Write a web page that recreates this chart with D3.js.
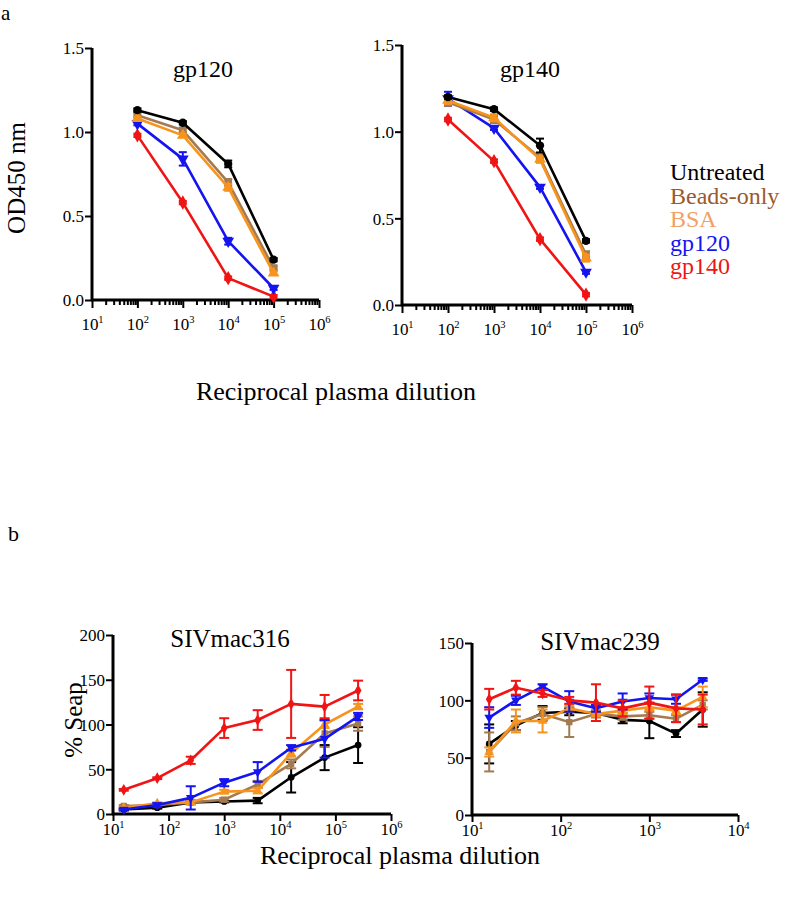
<!DOCTYPE html>
<html><head><meta charset="utf-8">
<script src="https://cdn.jsdelivr.net/npm/d3@7"></script>
<style>body{margin:0;background:#fff}</style>
</head><body>
<svg id="c" width="800" height="899" font-family="Liberation Serif, Times New Roman, serif"></svg>
<script>
// ---------- data ----------
const seriesNames = ["Untreated","Beads-only","BSA","gp120","gp140"];
const seriesColors = ["#000000","#A47A50","#F7941D","#1414F0","#F01414"];
const legendColors = ["#000000","#9A5A2B","#F2A064","#1414F0","#F01414"];
const markers = ["circle","square","triangle","triangleDown","diamond"];

const elisaX = [100, 1000, 10000, 100000];
const gp120Untreated = [1.13, 1.055, 0.81, 0.24];
const gp120Beads     = [1.10, 1.01, 0.70, 0.19];
const gp120BSA       = [1.08, 0.98, 0.67, 0.16];
const gp120Gp120     = [1.05, 0.84, 0.35, 0.07];
const gp120Gp140     = [0.98, 0.58, 0.13, 0.02];
const gp120Err = [[0.01,0.01,0.02,0.01],[0.01,0.01,0.02,0.01],[0.01,0.01,0.02,0.01],[0.01,0.04,0.02,0.01],[0.01,0.01,0.01,0.01]];

const gp140Untreated = [1.20, 1.13, 0.92, 0.37];
const gp140Beads     = [1.17, 1.07, 0.85, 0.29];
const gp140BSA       = [1.18, 1.08, 0.84, 0.27];
const gp140Gp120     = [1.19, 1.02, 0.68, 0.19];
const gp140Gp140     = [1.07, 0.83, 0.38, 0.06];
const gp140Err = [[0.01,0.01,0.04,0.01],[0.02,0.02,0.02,0.02],[0.02,0.02,0.02,0.02],[0.04,0.01,0.01,0.01],[0.01,0.01,0.01,0.01]];

const mac316X = [15.625, 62.5, 250, 1000, 4000, 16000, 64000, 256000];
const mac316Untreated = [5, 7, 13, 14, 15, 41, 63, 77];
const mac316Beads     = [9, 10, 13, 16, 33, 56, 90, 101];
const mac316BSA       = [7, 12, 13, 25, 26, 68, 100, 120];
const mac316Gp120     = [5, 10, 18, 35, 47, 74, 84, 109];
const mac316Gp140     = [27, 40, 60, 96, 105, 123, 120, 138];
const mac316Err = [[1,1,2,1,3,17,14,20],[1,1,2,2,4,5,15,8],[1,1,2,2,3,4,4,3],[1,2,13,4,11,3,21,4],[1,1,4,11,11,38,13,11]];

const mac239X = [15.625, 31.25, 62.5, 125, 250, 500, 1000, 2000, 4000];
const mac239Untreated = [62, 78, 89, 90, 89, 83, 82, 71, 92];
const mac239Beads     = [55, 80, 88, 81, 88, 86, 87, 84, 96];
const mac239BSA       = [55, 82, 82, 93, 88, 91, 94, 91, 103];
const mac239Gp120     = [85, 100, 112, 99, 93, 99, 102, 101, 118];
const mac239Gp140     = [101, 111, 106, 100, 98, 93, 98, 93, 92];
const mac239Err = [[17,4,6,3,2,3,15,3,15],[17,6,6,13,3,3,3,3,4],[4,10,10,3,2,3,3,3,9],[9,4,2,9,3,7,4,4,1],[9,6,3,3,16,7,14,12,13]];

const elisaYTicks = [0, 0.5, 1.0, 1.5];
const mac316YTicks = [0, 50, 100, 150, 200];
const mac239YTicks = [0, 50, 100, 150];

// ---------- drawing ----------
const FONT = "Liberation Serif, Times New Roman, serif";
const svg = d3.select("#c");

function markerPath(type, size){
  const map = {circle:d3.symbolCircle, square:d3.symbolSquare, triangle:d3.symbolTriangle, triangleDown:d3.symbolTriangle, diamond:d3.symbolDiamond};
  return d3.symbol().type(map[type]).size(size)();
}

function panel(opt){
  const g = svg.append("g");
  const x = d3.scaleLog().domain(opt.xDomain).range(opt.xRange);
  const y = d3.scaleLinear().domain(opt.yDomain).range(opt.yRange);
  const decades = d3.range(Math.log10(opt.xDomain[0]), Math.log10(opt.xDomain[1])+1).map(e=>Math.pow(10,e));

  if(opt.minor){
    const minors = [];
    decades.slice(0,-1).forEach(d=>{ for(let k=2;k<=9;k++) minors.push(d*k); });
    g.append("g").attr("transform",`translate(0,${opt.yRange[0]})`)
      .call(d3.axisBottom(x).tickValues(minors).tickSize(5).tickFormat(""))
      .call(a=>a.select(".domain").remove())
      .call(a=>a.selectAll("line").attr("stroke","#000").attr("stroke-width",2));
  }
  const xa = g.append("g").attr("transform",`translate(0,${opt.yRange[0]})`)
    .call(d3.axisBottom(x).tickValues(decades).tickSize(opt.xTickSize).tickSizeOuter(0).tickFormat(""));
  xa.attr("font-family",FONT);
  xa.select(".domain").attr("stroke","#000").attr("stroke-width",opt.axisW).attr("d",`M${opt.xRange[0]-1},0H${opt.xRange[1]}`);
  xa.selectAll(".tick line").attr("stroke","#000").attr("stroke-width",2);
  xa.selectAll(".tick").append("text").attr("fill","#000").attr("y",opt.xLabelDy)
    .attr("text-anchor","middle").attr("font-size",opt.tickFont).attr("font-family",FONT)
    .each(function(d){
      const t = d3.select(this);
      t.append("tspan").text("10");
      t.append("tspan").attr("dy",-7).attr("font-size",opt.tickFont*0.62).text(Math.round(Math.log10(d)));
    });
  const ya = g.append("g").attr("transform",`translate(${opt.xRange[0]},0)`)
    .call(d3.axisLeft(y).tickValues(opt.yTicks).tickSize(7).tickSizeOuter(0).tickFormat(opt.yFormat));
  ya.attr("font-family",FONT);
  ya.select(".domain").attr("stroke","#000").attr("stroke-width",opt.axisW).attr("d",`M0,${opt.yRange[1]}V${opt.yRange[0]+1}`);
  ya.selectAll(".tick line").attr("stroke","#000").attr("stroke-width",2);
  ya.selectAll(".tick text").attr("fill","#000").attr("font-size",opt.tickFont).attr("font-family",FONT).attr("x",-8).attr("dy","0.35em");

  g.append("text").attr("x",opt.titleX).attr("y",opt.titleY).attr("text-anchor","middle")
    .attr("font-family",FONT).attr("font-size",opt.titleFont).text(opt.title);

  const line = d3.line().x(d=>x(d[0])).y(d=>y(d[1]));
  opt.order.forEach(i=>{
    const vals = opt.series[i];
    const pts = opt.xs.map((xv,j)=>[xv, vals[j], opt.errs[i][j]]);
    const col = seriesColors[i];
    const sg = g.append("g");
    pts.forEach(p=>{
      const cx = x(p[0]), y1 = y(p[1]+p[2]), y2 = y(Math.max(0,p[1]-p[2]));
      sg.append("line").attr("x1",cx).attr("x2",cx).attr("y1",y1).attr("y2",y2).attr("stroke",col).attr("stroke-width",opt.errW);
      [y1,y2].forEach(yy=>sg.append("line").attr("x1",cx-opt.cap).attr("x2",cx+opt.cap).attr("y1",yy).attr("y2",yy).attr("stroke",col).attr("stroke-width",opt.errW));
    });
    sg.append("path").datum(pts).attr("d",line).attr("fill","none").attr("stroke",col).attr("stroke-width",opt.lineW).attr("stroke-linejoin","round");
    sg.selectAll(".m").data(pts).enter().append("path")
      .attr("d",markerPath(markers[i], opt.mSize*(markers[i]==="circle"?0.9:1)))
      .attr("transform",p=>`translate(${x(p[0])},${y(p[1])})${markers[i]==="triangleDown"?" rotate(180)":""}`)
      .attr("fill",col);
  });
}

const elisaCommon = {xDomain:[10,1e6], yDomain:[0,1.5], yTicks:elisaYTicks, yFormat:d3.format(".1f"), minor:true,
  xTickSize:8, xLabelDy:30, tickFont:17, titleFont:24, axisW:3, lineW:2.6, errW:2, cap:4, mSize:60,
  xs:elisaX, order:[4,3,1,2,0]};

panel(Object.assign({}, elisaCommon, {xRange:[92,319], yRange:[300,48], title:"gp120", titleX:203, titleY:77,
  series:[gp120Untreated,gp120Beads,gp120BSA,gp120Gp120,gp120Gp140], errs:gp120Err}));
panel(Object.assign({}, elisaCommon, {xRange:[402,632], yRange:[305,45], title:"gp140", titleX:530, titleY:77,
  series:[gp140Untreated,gp140Beads,gp140BSA,gp140Gp120,gp140Gp140], errs:gp140Err}));

const sivCommon = {yFormat:d3.format("d"), minor:false, xTickSize:7, xLabelDy:21, tickFont:17, titleFont:25,
  axisW:3, lineW:2.6, errW:2, cap:5, mSize:40, order:[0,1,2,3,4]};
panel(Object.assign({}, sivCommon, {xDomain:[10,1e6], xRange:[113,391], yDomain:[0,200], yRange:[814,635], yTicks:mac316YTicks,
  title:"SIVmac316", titleX:230, titleY:647, xs:mac316X,
  series:[mac316Untreated,mac316Beads,mac316BSA,mac316Gp120,mac316Gp140], errs:mac316Err}));
panel(Object.assign({}, sivCommon, {xDomain:[10,1e4], xRange:[472,738], yDomain:[0,150], yRange:[815,643], yTicks:mac239YTicks,
  title:"SIVmac239", titleX:600, titleY:650, xs:mac239X,
  series:[mac239Untreated,mac239Beads,mac239BSA,mac239Gp120,mac239Gp140], errs:mac239Err}));

const lg = svg.append("g");
seriesNames.forEach((n,i)=>{
  lg.append("text").attr("x",670).attr("y",180+i*23.5).attr("font-family",FONT).attr("font-size",24).attr("fill",legendColors[i]).text(n);
});

function txt(x,y,s,size,rot){
  const t = svg.append("text").attr("font-family",FONT).attr("font-size",size).attr("text-anchor","middle").text(s);
  if(rot) t.attr("transform",`translate(${x},${y}) rotate(-90)`); else t.attr("x",x).attr("y",y);
  return t;
}
txt(25,178,"OD450 nm",25,true);
txt(82,720,"% Seap",25,true);
txt(336,400,"Reciprocal plasma dilution",26,false);
txt(400,864,"Reciprocal plasma dilution",26,false);
svg.append("text").attr("x",1).attr("y",20).attr("font-family",FONT).attr("font-size",21).text("a");
svg.append("text").attr("x",8).attr("y",541).attr("font-family",FONT).attr("font-size",22).text("b");
</script>
</body></html>
